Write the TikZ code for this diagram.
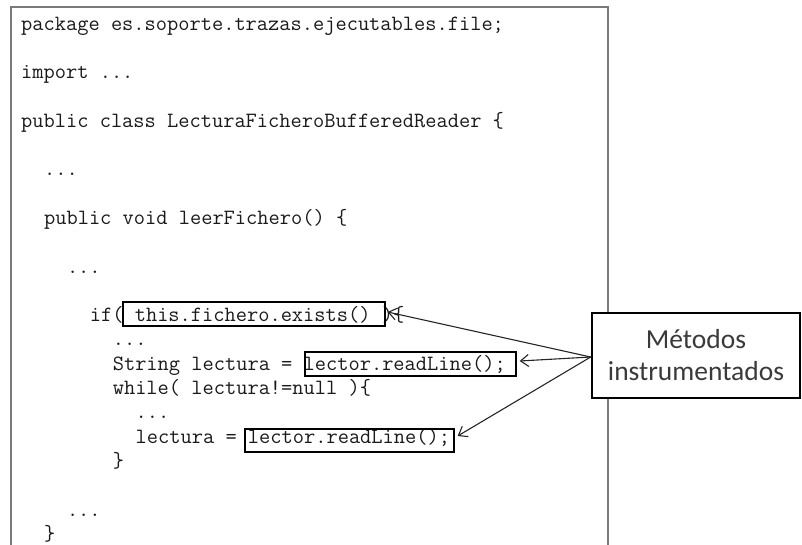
\documentclass[tikz,border=0pt]{standalone}
\usepackage{fontspec}
\usetikzlibrary{arrows.meta,calc}
\newfontfamily\labelfont{Carlito}
\definecolor{codeink}{HTML}{1A1A1A}
\definecolor{panelgray}{HTML}{7A7A7A}
\definecolor{labelink}{HTML}{3A3A3A}

\begin{document}
\begin{tikzpicture}[x=1pt,y=-1pt,
  codeline/.style={anchor=base west,inner sep=0pt,text=codeink,
    font=\ttfamily\fontsize{21.8}{24}\selectfont},
  callbox/.style={draw=black,line width=1.3pt,inner sep=0pt,rectangle},
  notebox/.style={draw=black,fill=white,line width=2.6pt,inner sep=0pt,
    align=center,text=labelink,font=\labelfont\fontsize{27.5}{32}\selectfont},
  ptr/.style={draw=black!85,line width=1.1pt,
    -{Straight Barb[length=8pt,width=12pt,line width=1.1pt]}},
  panel/.style={draw=panelgray,line width=2pt}]

  \useasboundingbox (0,0) rectangle (802,544);
  \fill[white] (0,0) rectangle (802,544);

  % source listing frame (open at the bottom)
  \draw[panel] (11,548) -- (11,7) -- (608,7) -- (608,548);

  % listing: baseline = 30 + 24.3*row, indent step = 11.45 per character
  \node[codeline] (c00) at (21,30.0)   {package es.soporte.trazas.ejecutables.file;};
  \node[codeline] (c02) at (21,78.6)   {import ...};
  \node[codeline] (c04) at (21,127.2)  {public class LecturaFicheroBufferedReader \{};
  \node[codeline] (c06) at (43.9,175.8)  {...};
  \node[codeline] (c08) at (43.9,224.4)  {public void leerFichero() \{};
  \node[codeline] (c10) at (66.8,273.0)  {...};
  \node[codeline] (c12) at (89.7,321.6)  {if( this.fichero.exists() )\{};
  \node[codeline] (c13) at (112.6,345.9) {...};
  \node[codeline] (c14) at (112.6,370.2) {String lectura = lector.readLine();};
  \node[codeline] (c15) at (112.6,394.5) {while( lectura!=null )\{};
  \node[codeline] (c16) at (135.5,418.8) {...};
  \node[codeline] (c17) at (135.5,443.1) {lectura = lector.readLine();};
  \node[codeline] (c18) at (112.6,467.4) {\}};
  \node[codeline] (c20) at (66.8,516.0)  {...};
  \node[codeline] (c21) at (43.9,540.3)  {\}};

  % frames around the instrumented calls
  \node[callbox,minimum width=262pt,minimum height=24pt] (m1) at (254,314) {};
  \node[callbox,minimum width=211pt,minimum height=24pt] (m2) at (410.5,364) {};
  \node[callbox,minimum width=209pt,minimum height=23pt] (m3) at (349.5,440.5) {};

  % annotation
  \node[notebox,minimum width=208pt,minimum height=85pt] (note) at (696,355.5)
    {Métodos\\instrumentados};

  \coordinate (src) at ($(note.west)+(0,1.5)$);
  \coordinate (t1) at ($(m1.east)+(2,-2)$);
  \coordinate (t2) at ($(m2.east)+(3,-3)$);
  \coordinate (t3) at ($(m3.east)+(3,-4.5)$);

  \draw[ptr] (src) -- (t1);
  \draw[ptr] (src) -- (t2);
  \draw[ptr] (src) -- (t3);
\end{tikzpicture}
\end{document}
